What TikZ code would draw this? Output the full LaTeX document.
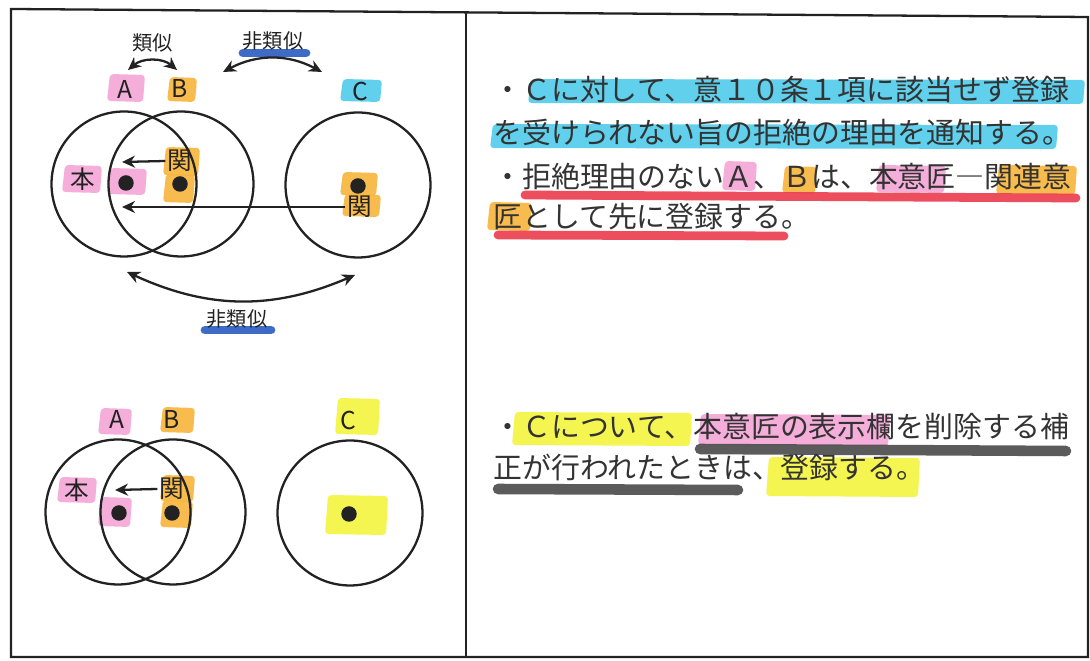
\documentclass[tikz,border=0pt]{standalone}
\usepackage{fontspec}
\setmainfont{Noto Sans CJK JP}
\usetikzlibrary{arrows.meta}
\definecolor{hlpink}{HTML}{F5A6D6}
\definecolor{hlorange}{HTML}{F8B43A}
\definecolor{hlcyan}{HTML}{4FCBEA}
\definecolor{hlyellow}{HTML}{F3F43E}
\definecolor{ulblue}{HTML}{2A5BC0}
\definecolor{ulred}{HTML}{EC3B4D}
\definecolor{ulgray}{HTML}{4A4A4A}
\definecolor{ink}{HTML}{222222}
\definecolor{textink}{HTML}{333333}
\newcommand\hlbox[5]{\fill[#1, hlstyle] (#2+3,#3) -- (#4,#3+1) -- (#4-2,#5) -- (#2,#5-1) -- cycle;}
\tikzset{
  hlstyle/.style={rounded corners=2pt, opacity=0.9},
  ring/.style={circle, draw=ink, line width=1.3pt, minimum size=2.9cm, inner sep=0pt},
  pt/.style={circle, fill=ink, minimum size=0.31cm, inner sep=0pt},
  lbl/.style={font=\fontsize{14pt}{14pt}\selectfont, text=ink, inner sep=0pt},
  sim/.style={font=\fontsize{11.5pt}{11.5pt}\selectfont, text=ink, inner sep=0pt},
  txtline/.style={anchor=base west, font=\fontsize{16.45pt}{18pt}\selectfont, inner sep=0pt, text=textink},
  arr/.style={-{Stealth[length=2.6mm,width=2.4mm]}, line width=1.3pt, draw=ink},
  darr/.style={{Stealth[length=2.6mm,width=2.4mm]}-{Stealth[length=2.6mm,width=2.4mm]}, line width=1.3pt, draw=ink},
  ul/.style={line width=5pt, line cap=round, opacity=0.9}
}
\begin{document}
\begin{tikzpicture}[x=0.02cm,y=-0.02cm]
\useasboundingbox (0,0) rectangle (1090,661);
\fill[white] (0,0) rectangle (1090,661);
% frame
\draw[ink, line width=1.3pt] (11,9) -- (1088,17) -- (1088,657) -- (11,657) -- cycle;
\draw[ink, line width=1.3pt] (466,12) -- (466,657);

% ---------- highlights, left top ----------
\hlbox{hlpink}{107}{74}{145}{102}
\hlbox{hlorange}{167}{77}{197}{102}
\hlbox{hlcyan}{340}{79}{382}{102}
\hlbox{hlpink}{62}{165}{102}{193}
\hlbox{hlpink}{107}{168}{147}{195}
\hlbox{hlorange}{163}{147}{200}{176}
\hlbox{hlorange}{163}{174}{195}{203}
\hlbox{hlorange}{340}{172}{378}{196}
\hlbox{hlorange}{342}{194}{381}{217}
% ---------- highlights, left bottom ----------
\hlbox{hlpink}{98}{408}{132}{435}
\hlbox{hlorange}{160}{407}{195}{433}
\hlbox{hlyellow}{335}{398}{380}{435}
\hlbox{hlpink}{57}{477}{97}{503}
\hlbox{hlpink}{98}{497}{132}{527}
\hlbox{hlorange}{160}{475}{195}{502}
\hlbox{hlorange}{160}{500}{193}{528}
\hlbox{hlyellow}{325}{495}{388}{535}

% blue underlines
\draw[ulblue, ul] (243,53) -- (306,53);
\draw[ulblue, ul] (205,330) -- (271,330);

% ---------- top diagram ----------
\node[ring] (cA) at (124,184) {};
\node[ring] (cB) at (181,184) {};
\node[ring] (cC) at (358,185) {};
\node[pt] (dA) at (126,183) {};
\node[pt] (dB) at (180,184) {};
\node[pt] (dC) at (358,186) {};
\node[lbl] (lA) at (125,89) {A};
\node[lbl] (lB) at (180,88) {B};
\node[lbl] (lC) at (360,91) {C};
\node[lbl] (hon) at (83,179) {本};
\node[lbl] (kanB) at (180,161) {関};
\node[lbl] (kanC) at (360,207) {関};
\node[sim] (ruiji) at (153,43) {類似};
\node[sim] (hirui1) at (273,41) {非類似};
\node[sim] (hirui2) at (237,319) {非類似};
\coordinate (a1) at (122,162);
\coordinate (a2) at (122,207);
\coordinate (s1) at (128,70);
\coordinate (s2) at (177,70);
\coordinate (n1) at (223,72);
\coordinate (n2) at (322,72);
\coordinate (m1) at (127,272);
\coordinate (m2) at (355,275);
\draw[arr] (kanB.west) ++(-2,0) -- (a1);
\draw[arr] (kanC.west) ++(-2,0) -- (a2);
\draw[darr] (s1) to[bend left=40] (s2);
\draw[darr] (n1) to[bend left=28] (n2);
\draw[darr] (m1) to[bend right=24] (m2);

% ---------- bottom diagram ----------
\node[ring] (cA2) at (118,512) {};
\node[ring] (cB2) at (173,512) {};
\node[ring] (cC2) at (350,513) {};
\node[pt] (dA2) at (119,513) {};
\node[pt] (dB2) at (172,513) {};
\node[pt] (dC2) at (349,514) {};
\node[lbl] (lA2) at (117,419) {A};
\node[lbl] (lB2) at (172,419) {B};
\node[lbl] (lC2) at (348,420) {C};
\node[lbl] (hon2) at (77,490) {本};
\node[lbl] (kanB2) at (172,489) {関};
\coordinate (a3) at (115,490);
\draw[arr] (kanB2.west) ++(-2,0) -- (a3);

% ---------- right text highlights ----------
\hlbox{hlcyan}{528}{79}{1085}{104}
\hlbox{hlcyan}{490}{124}{1058}{149}
\hlbox{hlpink}{722}{161}{757}{191}
\hlbox{hlorange}{782}{166}{817}{194}
\hlbox{hlpink}{876}{165}{946}{193}
\hlbox{hlorange}{996}{165}{1077}{195}
\hlbox{hlorange}{487}{202}{532}{231}
\draw[ulred, ul] (525,195) -- (1076,198);
\draw[ulred, ul] (498,235) -- (784,236);
\hlbox{hlyellow}{512}{412}{692}{446}
\hlbox{hlpink}{698}{414}{890}{446}
\draw[ulgray, ul, line width=6pt] (700,449) -- (1066,451);
\draw[ulgray, ul, line width=6pt] (498,489) -- (738,490);
\hlbox{hlyellow}{766}{457}{920}{497}

% ---------- right text ----------
\node[txtline] (t1) at (493,101) {・Ｃに対して、意１０条１項に該当せず登録};
\node[txtline] (t2) at (493,144) {を受けられない旨の拒絶の理由を通知する。};
\node[txtline] (t3) at (493,188) {・拒絶理由のないＡ、Ｂは、本意匠―関連意};
\node[txtline] (t4) at (493,228) {匠として先に登録する。};
\node[txtline] (t5) at (493,438) {・Ｃについて、本意匠の表示欄を削除する補};
\node[txtline] (t6) at (493,479) {正が行われたときは、登録する。};
\end{tikzpicture}
\end{document}
